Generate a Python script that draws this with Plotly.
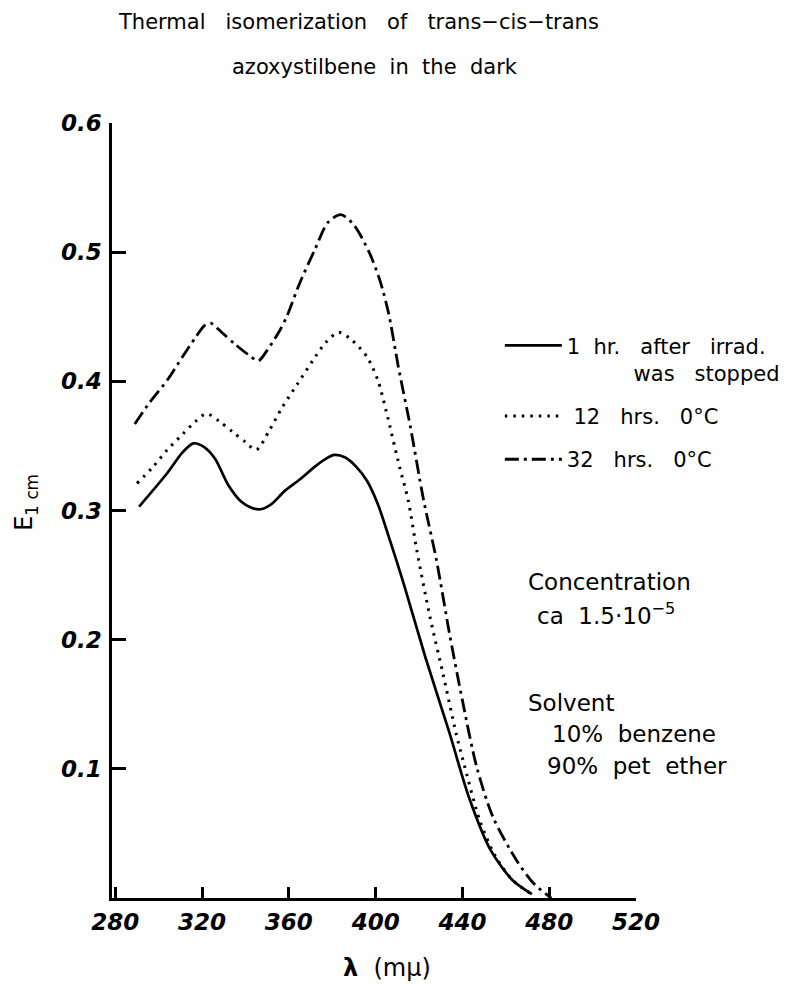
import plotly.graph_objects as go

# ---- data ----
x_1hr = [291, 304, 311, 316, 321, 326, 332, 338, 343, 347, 352, 358, 365, 372, 377, 381,
         386, 391, 396, 401, 406, 413, 423, 434, 443, 453, 463, 472]
y_1hr = [0.303, 0.329, 0.345, 0.352, 0.349, 0.340, 0.320, 0.307, 0.302, 0.301, 0.305, 0.315,
         0.324, 0.334, 0.340, 0.343, 0.341, 0.334, 0.323, 0.305, 0.280, 0.243, 0.186, 0.128,
         0.078, 0.037, 0.014, 0.003]

x_12h = [290, 297, 304, 311, 317, 322, 328, 334, 340, 345, 351, 357, 364, 371, 377, 383,
         389, 396, 401, 405, 411, 415, 419, 425, 431, 437, 441, 448, 455, 463, 472]
y_12h = [0.321, 0.333, 0.347, 0.359, 0.369, 0.375, 0.369, 0.361, 0.353, 0.347, 0.362, 0.380,
         0.398, 0.416, 0.430, 0.438, 0.432, 0.419, 0.401, 0.376, 0.334, 0.308, 0.269, 0.218,
         0.174, 0.128, 0.102, 0.060, 0.033, 0.014, 0.003]

x_32h = [289, 296, 304, 311, 317, 321, 324, 329, 335, 341, 346, 350, 355, 359, 365, 372,
         378, 384, 390, 397, 402, 406, 410.5, 416, 422, 428, 434, 440, 446.5, 454, 465, 473, 481]
y_32h = [0.367, 0.384, 0.401, 0.419, 0.434, 0.443, 0.445, 0.438, 0.429, 0.421, 0.416, 0.424,
         0.437, 0.450, 0.476, 0.502, 0.523, 0.529, 0.521, 0.500, 0.478, 0.4525, 0.411, 0.365,
         0.309, 0.262, 0.205, 0.153, 0.102, 0.063, 0.029, 0.011, 0.0]

x_ticks = [280, 320, 360, 400, 440, 480, 520]
y_ticks = [0.1, 0.2, 0.3, 0.4, 0.5, 0.6]
y_ticklabels = ["0.1", "0.2", "0.3", "0.4", "0.5", "0.6"]

NB = "\u00a0"
S3 = NB * 3
name_1hr = f"1{NB}{NB}hr.{S3}after{S3}irrad.<br>{NB*10}was{S3}stopped"
name_12h = f"{NB}12{S3}hrs.{S3}0°C"
name_32h = f"32{S3}hrs.{S3}0°C"

FONT = "DejaVu Sans"

fig = go.Figure()
fig.add_trace(go.Scatter(x=x_1hr, y=y_1hr, mode="lines", name=name_1hr, legendgroup="a",
                         line=dict(color="black", width=2.7, shape="spline", smoothing=0.8)))
fig.add_trace(go.Scatter(x=x_12h, y=y_12h, mode="lines", name=name_12h, legendgroup="b",
                         line=dict(color="black", width=3, dash="2.5px,6px", shape="spline", smoothing=0.8)))
fig.add_trace(go.Scatter(x=x_32h, y=y_32h, mode="lines", name=name_32h, legendgroup="c",
                         line=dict(color="black", width=2.8, dash="14px,5px,3px,5px", shape="spline", smoothing=0.8)))

L, R, T, B = 111.5, 636.4, 122.7, 898.0
W, H = 799, 984
pw, ph = R - L, B - T

def px(xp):
    return (xp - L) / pw

def py(yp):
    return (B - yp) / ph

annos = [
    (f"Thermal{S3}isomerization{S3}of{S3}trans−cis−trans", 358, 22, "center", 21),
    (f"azoxystilbene{NB}{NB}in{NB}{NB}the{NB}{NB}dark", 375, 67, "center", 21),
    ("Concentration", 526.7, 582, "left", 23),
    (f"ca{NB}{NB}1.5·10<sup>−5</sup>", 535, 614, "left", 23),
    ("Solvent", 526.7, 703, "left", 23),
    (f"10%{NB}{NB}benzene", 550, 734, "left", 23),
    (f"90%{NB}{NB}pet{NB}{NB}ether", 545, 766, "left", 23),
]
annotations = []
for text, xp, yp, anchor, size in annos:
    annotations.append(dict(text=text, x=px(xp), y=py(yp), xref="paper", yref="paper",
                            xanchor=anchor, yanchor="middle", showarrow=False,
                            font=dict(family=FONT, size=size, color="black")))
annotations.append(dict(text=f"<b>λ</b>{NB}{NB}(mμ)", x=px(387), y=py(968), xref="paper", yref="paper",
                        xanchor="center", yanchor="middle", showarrow=False,
                        font=dict(family=FONT, size=24, color="black")))
annotations.append(dict(text="E<sub>1 cm</sub>", x=px(25), y=py(502), xref="paper", yref="paper",
                        xanchor="center", yanchor="middle", showarrow=False, textangle=-90,
                        font=dict(family=FONT, size=24, color="black")))

fig.update_layout(
    width=W, height=H,
    margin=dict(l=L, r=W - R, t=T, b=H - B, pad=0),
    plot_bgcolor="white", paper_bgcolor="white",
    showlegend=True,
    legend=dict(x=px(500), y=py(325), xanchor="left", yanchor="top",
                font=dict(family=FONT, size=21, color="black"),
                bgcolor="rgba(0,0,0,0)", tracegroupgap=13, valign="top",
                itemwidth=57),
    annotations=annotations,
)
tickfont = dict(family=FONT, size=23, color="black", style="italic", weight="bold")
fig.update_xaxes(range=[278.5, 520], tickvals=x_ticks, ticktext=[str(v) for v in x_ticks],
                 showgrid=False, zeroline=False, showline=True, linecolor="black", linewidth=2.5,
                 ticks="inside", ticklen=11, tickwidth=2.5, tickcolor="black",
                 tickfont=tickfont, ticklabelstandoff=2)
fig.update_yaxes(range=[0, 0.6], tickvals=y_ticks, ticktext=y_ticklabels,
                 showgrid=False, zeroline=False, showline=True, linecolor="black", linewidth=2.5,
                 ticks="inside", ticklen=14, tickwidth=2.5, tickcolor="black",
                 tickfont=tickfont, ticklabelstandoff=3)

fig.write_html("out.html")
